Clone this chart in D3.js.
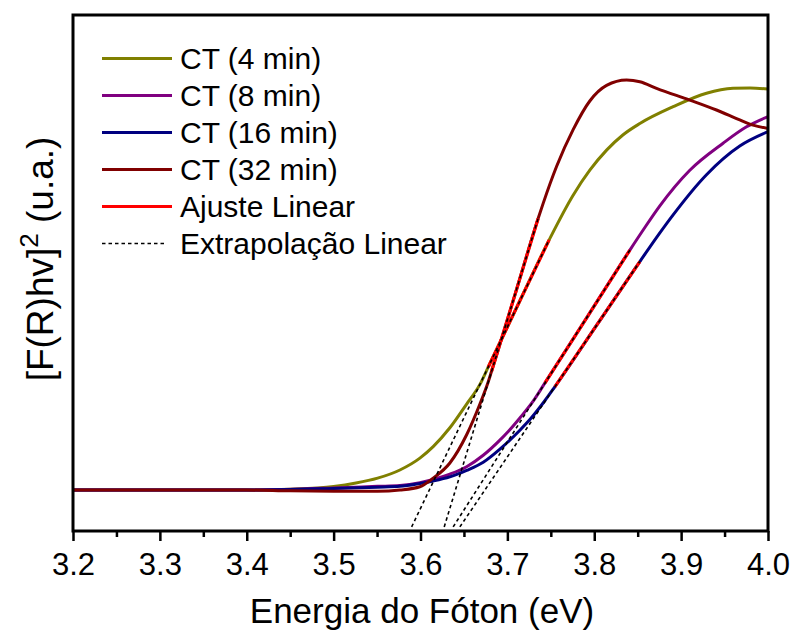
<!DOCTYPE html>
<html>
<head>
<meta charset="utf-8">
<script src="https://cdn.jsdelivr.net/npm/d3@7"></script>
<style>
html,body{margin:0;padding:0;background:#fff;}
svg{display:block;font-family:"Liberation Sans",Arial,sans-serif;}
</style>
</head>
<body>
<svg id="chart" width="793" height="632"></svg>
<script>
// ---- data ----
const seriesNames = ["CT (4 min)", "CT (8 min)", "CT (16 min)", "CT (32 min)"];
const seriesColors = ["#808000", "#800080", "#000080", "#800000"];

const e4 = [3.20,3.40,3.45,3.50,3.5257,3.5506,3.5763,3.5993,3.6146,3.6338,3.6531,3.6684,3.6779,3.713,3.7481,3.7757,3.7949,3.8142,3.8329,3.8525,3.8908,3.9292,3.9598,3.9793,4.00];
const y4 = [0,0,0.002,0.0085,0.017,0.029,0.049,0.078,0.106,0.152,0.210,0.258,0.300,0.456,0.611,0.720,0.781,0.830,0.867,0.895,0.936,0.969,0.981,0.982,0.979];

const e8 = [3.20,3.40,3.50,3.5506,3.5763,3.5993,3.6146,3.6338,3.6531,3.6722,3.6914,3.701,3.7144,3.7297,3.7431,3.792,3.8410,3.8563,3.8755,3.9100,3.9483,3.9753,4.00];
const y8 = [0,0,0.005,0.009,0.011,0.018,0.026,0.039,0.057,0.085,0.122,0.143,0.176,0.217,0.261,0.423,0.586,0.635,0.694,0.781,0.847,0.887,0.912];

const e16 = [3.20,3.40,3.50,3.5506,3.5763,3.5993,3.6146,3.6338,3.6531,3.6722,3.6914,3.7144,3.7259,3.7431,3.7546,3.8036,3.8525,3.8755,3.8908,3.9292,3.9675,4.00];
const y16 = [0,0,0.004,0.007,0.009,0.016,0.022,0.032,0.048,0.068,0.100,0.146,0.172,0.218,0.252,0.405,0.558,0.628,0.672,0.770,0.840,0.875];

const e32 = [3.20,3.40,3.45,3.50,3.5506,3.5763,3.5993,3.6146,3.6338,3.6531,3.6684,3.6779,3.6818,3.7086,3.7354,3.7412,3.7566,3.7757,3.7949,3.8142,3.8372,3.8525,3.8717,3.9100,3.9407,3.9675,3.9828,4.00];
const y32 = [0,0,-0.002,-0.003,-0.003,0,0.008,0.029,0.066,0.135,0.210,0.264,0.290,0.476,0.663,0.700,0.790,0.880,0.950,0.988,1.001,0.997,0.981,0.952,0.928,0.904,0.891,0.883];

// linear fit ranges (Ajuste Linear), per series
const fitStart = [3.6779, 3.7431, 3.7546, 3.6818];
const fitEnd   = [3.7481, 3.8410, 3.8525, 3.7354];

// linear extrapolation lines (Extrapolação Linear): from x-intercept region to end of fit
const extrapE0 = [3.5898, 3.6376, 3.6453, 3.6273];
const extrapV0 = [-0.09, -0.09, -0.09, -0.09];
const extrapE1 = [3.7481, 3.8410, 3.8525, 3.7354];
const extrapV1 = [0.611, 0.586, 0.558, 0.663];

const xTicks = [3.2,3.3,3.4,3.5,3.6,3.7,3.8,3.9,4.0];
const xMinorTicks = [3.25,3.35,3.45,3.55,3.65,3.75,3.85,3.95];
const legendLabels = ["CT (4 min)", "CT (8 min)", "CT (16 min)", "CT (32 min)", "Ajuste Linear", "Extrapolação Linear"];
const fitColor = "#ff0000";

// ---- layout ----
const svg = d3.select("#chart");
const L = 73, R = 768, T = 15, B = 531;
const x = d3.scaleLinear().domain([3.2, 4.0]).range([L, R]);
const y = d3.scaleLinear().domain([-0.1, 1.16]).range([B, T]);

const allE = [e4, e8, e16, e32];
const allY = [y4, y8, y16, y32];

svg.append("defs").append("clipPath").attr("id","plotclip")
  .append("rect").attr("x", L).attr("y", T).attr("width", R-L).attr("height", B-T);

const plot = svg.append("g").attr("clip-path","url(#plotclip)");
const line = d3.line().x(d=>x(d[0])).y(d=>y(d[1])).curve(d3.curveMonotoneX);

// curves
allE.forEach((es, i) => {
  const pts = es.map((e, j) => [e, allY[i][j]]);
  plot.append("path").datum(pts)
    .attr("d", line).attr("fill","none")
    .attr("stroke", seriesColors[i]).attr("stroke-width", 3)
    .attr("stroke-linejoin","round").attr("stroke-linecap","round");
});
// red fit segments
allE.forEach((es, i) => {
  const pts = es.map((e, j) => [e, allY[i][j]]).filter(p => p[0] >= fitStart[i]-1e-9 && p[0] <= fitEnd[i]+1e-9);
  plot.append("path").datum(pts)
    .attr("d", d3.line().x(d=>x(d[0])).y(d=>y(d[1])))
    .attr("fill","none").attr("stroke", fitColor).attr("stroke-width", 3.2);
});
// dashed extrapolations
extrapE0.forEach((e0, i) => {
  plot.append("line")
    .attr("x1", x(e0)).attr("y1", y(extrapV0[i]))
    .attr("x2", x(extrapE1[i])).attr("y2", y(extrapV1[i]))
    .attr("stroke","#000").attr("stroke-width",1.6).attr("stroke-dasharray","3.5,3");
});

// frame
svg.append("rect").attr("x", L).attr("y", T).attr("width", R-L).attr("height", B-T)
  .attr("fill","none").attr("stroke","#000").attr("stroke-width",3);

// x axis
const xAxis = svg.append("g").attr("transform", `translate(0,${B})`)
  .call(d3.axisBottom(x).tickValues(xTicks).tickFormat(d3.format(".1f")).tickSize(10).tickSizeOuter(0).tickPadding(12));
xAxis.select(".domain").remove();
xAxis.selectAll(".tick line").attr("stroke","#000").attr("stroke-width",2.5);
xAxis.selectAll(".tick text").attr("font-size", 31).attr("fill","#000")
  .attr("font-family","'Liberation Sans', Arial, sans-serif");
const xMinor = svg.append("g").attr("transform", `translate(0,${B})`)
  .call(d3.axisBottom(x).tickValues(xMinorTicks).tickFormat("").tickSize(6).tickSizeOuter(0));
xMinor.select(".domain").remove();
xMinor.selectAll(".tick line").attr("stroke","#000").attr("stroke-width",2.5);

// axis titles
svg.append("text").attr("x", 422).attr("y", 623).attr("text-anchor","middle")
  .attr("font-size", 35).attr("fill","#000").text("Energia do Fóton (eV)");

const yt = svg.append("text").attr("transform","translate(53,259) rotate(-90)")
  .attr("text-anchor","middle").attr("font-size", 37).attr("fill","#000");
yt.append("tspan").text("[F(R)hv]");
yt.append("tspan").attr("font-size", 26).attr("dy", -15).text("2");
yt.append("tspan").attr("dy", 15).text(" (u.a.)");

// legend
const lg = svg.append("g");
const legColors = seriesColors.concat([fitColor, "#000"]);
legendLabels.forEach((lab, i) => {
  const ly = 58.5 + i * 37;
  const ln = lg.append("line").attr("x1", 102).attr("x2", 172).attr("y1", ly).attr("y2", ly)
    .attr("stroke", legColors[i]);
  if (i === 5) ln.attr("stroke-width",1.6).attr("stroke-dasharray","3.5,3").attr("x2",167);
  else ln.attr("stroke-width",3);
  lg.append("text").attr("x", 180).attr("y", ly + 10.5).attr("font-size", 30).attr("fill","#000").text(lab);
});
</script>
</body>
</html>
